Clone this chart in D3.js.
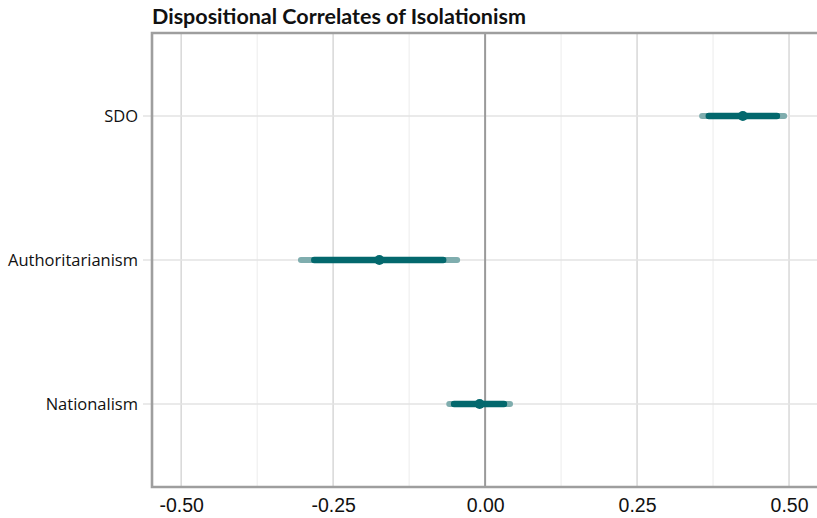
<!DOCTYPE html>
<html>
<head>
<meta charset="utf-8">
<script src="https://cdn.jsdelivr.net/npm/d3@7"></script>
<style>
  body { margin: 0; background: #fff; }
</style>
</head>
<body>
<div class="chart"></div>
<script>
// data
const predictors = ["SDO", "Authoritarianism", "Nationalism"];
const estimates  = [0.424, -0.174, -0.009];
const innerLow   = [0.368, -0.281, -0.051];
const innerHigh  = [0.480, -0.069, 0.031];
const outerLow   = [0.357, -0.303, -0.059];
const outerHigh  = [0.492, -0.046, 0.041];
const xTicks     = [-0.50, -0.25, 0.00, 0.25, 0.50];
const xMinor     = [-0.375, -0.125, 0.125, 0.375];

const rows = predictors.map((p, i) => ({
  name: p, est: estimates[i],
  lo: innerLow[i], hi: innerHigh[i],
  lo2: outerLow[i], hi2: outerHigh[i]
}));

const W = 817, H = 518;
const margin = {top: 33, right: 0, bottom: 31, left: 152};
const width = W - margin.left - margin.right,
      height = H - margin.top - margin.bottom;

const svg = d3.select(".chart")
  .append("svg")
    .attr("width", W)
    .attr("height", H);

const g = svg.append("g")
    .attr("transform", `translate(${margin.left},${margin.top})`);

const x = d3.scaleLinear()
  .domain([-0.548, 0.546])
  .range([0, width]);

const y = d3.scalePoint()
  .domain(predictors)
  .range([0, height])
  .padding(0.576);

// minor grid
g.selectAll(".minor")
  .data(xMinor)
  .join("line")
    .attr("x1", d => x(d)).attr("x2", d => x(d))
    .attr("y1", 0).attr("y2", height)
    .attr("stroke", "#ececec")
    .attr("stroke-width", 1);

// major grid
g.selectAll(".major")
  .data(xTicks.filter(d => d !== 0))
  .join("line")
    .attr("x1", d => x(d)).attr("x2", d => x(d))
    .attr("y1", 0).attr("y2", height)
    .attr("stroke", "#dadada")
    .attr("stroke-width", 1.6);

// horizontal grid, runs out past the left border as a tick
g.selectAll(".hgrid")
  .data(predictors)
  .join("line")
    .attr("x1", -9).attr("x2", width)
    .attr("y1", d => y(d)).attr("y2", d => y(d))
    .attr("stroke", "#e3e3e3")
    .attr("stroke-width", 1.6);

// zero reference line
g.append("line")
  .attr("x1", x(0)).attr("x2", x(0))
  .attr("y1", 0).attr("y2", height)
  .attr("stroke", "#9a9a9a")
  .attr("stroke-width", 2);

// panel border (top, left, bottom)
g.append("path")
  .attr("d", `M${width},0H0V${height}H${width}`)
  .attr("fill", "none")
  .attr("stroke", "#9e9e9e")
  .attr("stroke-width", 2.6);

// outer intervals
g.selectAll(".outer")
  .data(rows)
  .join("line")
    .attr("x1", d => x(d.lo2)).attr("x2", d => x(d.hi2))
    .attr("y1", d => y(d.name)).attr("y2", d => y(d.name))
    .attr("stroke", "#7fadae")
    .attr("stroke-width", 6)
    .attr("stroke-linecap", "round");

// inner intervals
g.selectAll(".inner")
  .data(rows)
  .join("line")
    .attr("x1", d => x(d.lo)).attr("x2", d => x(d.hi))
    .attr("y1", d => y(d.name)).attr("y2", d => y(d.name))
    .attr("stroke", "#03686d")
    .attr("stroke-width", 6.5)
    .attr("stroke-linecap", "round");

// point estimates
g.selectAll(".pt")
  .data(rows)
  .join("circle")
    .attr("cx", d => x(d.est))
    .attr("cy", d => y(d.name))
    .attr("r", 5)
    .attr("fill", "#03686d");

// x axis labels, plain hyphen for the minus sign
const xAxis = g.append("g")
  .attr("transform", `translate(0,${height})`)
  .call(d3.axisBottom(x).tickValues(xTicks)
    .tickFormat(d => d.toFixed(2))
    .tickSize(0).tickPadding(11));
xAxis.select(".domain").remove();
xAxis.selectAll("text")
  .attr("fill", "#111")
  .style("font-family", "'Liberation Sans', Arial, sans-serif")
  .style("font-size", "19.5px");

// y axis labels
const yAxis = g.append("g")
  .call(d3.axisLeft(y).tickSize(0).tickPadding(14));
yAxis.select(".domain").remove();
yAxis.selectAll("text")
  .attr("fill", "#111")
  .style("font-family", "'Open Sans', sans-serif")
  .style("font-size", "16.5px");

// title
svg.append("text")
  .attr("x", margin.left)
  .attr("y", 24)
  .attr("fill", "#111")
  .style("font-family", "Lato, 'Open Sans', sans-serif")
  .style("font-weight", "bold")
  .style("font-size", "21.5px")
  .text("Dispositional Correlates of Isolationism");
</script>
</body>
</html>
